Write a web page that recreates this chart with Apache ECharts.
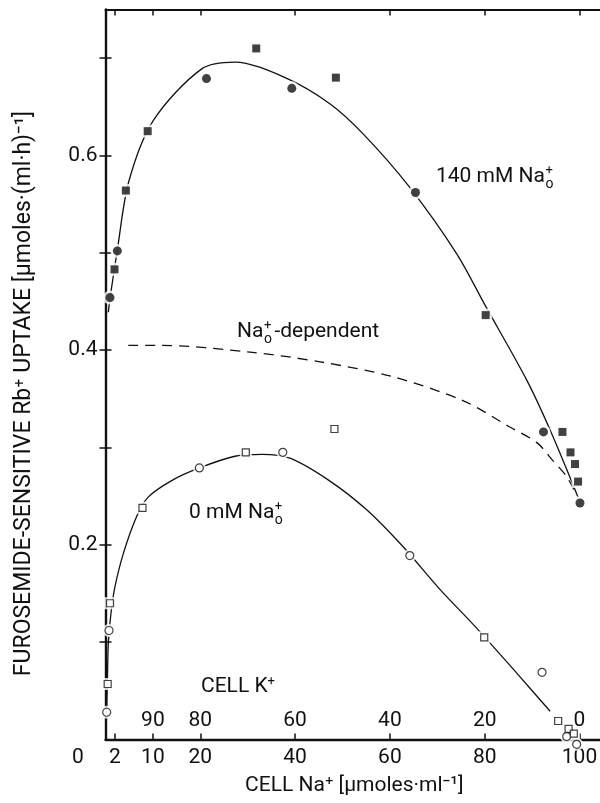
<!DOCTYPE html>
<html>
<head>
<meta charset="utf-8">
<script src="https://cdn.jsdelivr.net/npm/echarts@6/dist/echarts.min.js"></script>
<style>
  html, body { margin: 0; padding: 0; background: #fff; }
  #chart { width: 600px; height: 803px; }
</style>
</head>
<body>
<div id="chart"></div>
<script>
// Furosemide-sensitive Rb+ uptake against cell Na+ (cell K+ = 100 - Na+).

// 140 mM external Na+ (filled symbols)
const na140Circles = [0.95, 2.5, 21.3, 39.3, 65.4, 92.4, 100.1];
const up140Circles = [0.454, 0.502, 0.679, 0.669, 0.562, 0.316, 0.243];
const na140Squares = [1.9, 4.3, 8.9, 31.8, 48.6, 80.2, 96.4, 98.1, 99.05, 99.7];
const up140Squares = [0.483, 0.564, 0.625, 0.710, 0.680, 0.436, 0.316, 0.295, 0.283, 0.265];

// 0 mM external Na+ (open symbols)
const na0Circles = [0.25, 0.74, 19.8, 37.4, 64.2, 92.1, 97.3, 99.4];
const up0Circles = [0.028, 0.112, 0.279, 0.295, 0.189, 0.069, 0.003, -0.005];
const na0Squares = [0.46, 0.95, 7.8, 29.6, 48.3, 79.9, 95.5, 97.7, 98.8];
const up0Squares = [0.057, 0.140, 0.238, 0.295, 0.319, 0.105, 0.019, 0.011, 0.006];

// Hand-fitted curves
const curve140Na = [0.6, 1.0, 2.5, 4.9, 10.1, 20.3, 27.3, 37.9, 47.4, 54.4, 63.9, 74.1, 80.1, 88.9, 93.8, 99.7];
const curve140Up = [0.439, 0.455, 0.503, 0.573, 0.636, 0.689, 0.696, 0.680, 0.653, 0.622, 0.569, 0.499, 0.446, 0.369, 0.318, 0.249];
const curve0Na = [0.2, 0.4, 0.6, 1.16, 2.0, 3.76, 6.57, 9.0, 13.96, 19.8, 27.3, 33.0, 38.9, 47.2, 55.1, 62.6, 70.6, 78.0, 86.8, 93.8];
const curve0Up = [0.02, 0.06, 0.099, 0.130, 0.157, 0.191, 0.229, 0.249, 0.266, 0.279, 0.291, 0.293, 0.289, 0.266, 0.236, 0.199, 0.154, 0.116, 0.068, 0.029];
// Difference curve (Na+o-dependent component)
const curveDepNa = [4.8, 11.5, 30.5, 45.3, 60.4, 75.5, 85.3, 91.0, 94.3, 97.3, 99.4];
const curveDepUp = [0.405, 0.405, 0.398, 0.388, 0.373, 0.348, 0.321, 0.305, 0.287, 0.270, 0.251];

// Axis ticks and labels
const naLabelValues = [2, 10, 20, 40, 60, 80, 100];
const naTickValues = [2, 10, 20, 40, 60, 80, 100];
const kLabelValues = [10, 20, 40, 60, 80, 100];   // shown as cell K+ = 100 - Na+
const uptakeTickValues = [0.1, 0.2, 0.3, 0.4, 0.5, 0.6, 0.7];
const uptakeLabelValues = [0.2, 0.4, 0.6];

const FONT = 'Roboto, "DejaVu Sans", sans-serif';
const INK = '#111';
const SIZE = 21;

const pairs = (xs, ys) => xs.map((x, i) => [x, ys[i]]);

const measureCtx = document.createElement('canvas').getContext('2d');
function textWidth(str, size) {
  measureCtx.font = size + 'px ' + FONT;
  return measureCtx.measureText(str).width;
}
function txt(x, y, text, size, extra) {
  return Object.assign({
    type: 'text', x: x, y: y, silent: true,
    style: { text: text, fontSize: size, fontFamily: FONT, fill: INK,
             textAlign: 'left', textVerticalAlign: 'middle', align: 'left', verticalAlign: 'middle' }
  }, extra || {});
}
// "Na" followed by a stacked + / o (external sodium)
function naOutLabel(x, y, before, after) {
  const w = textWidth(before, SIZE);
  const kids = [
    txt(0, 0, before, SIZE),
    txt(w + 0.5, -6, '+', 13),
    txt(w + 0.5, 7, 'o', 14)
  ];
  if (after) kids.push(txt(w + 11, 0, after, SIZE));
  return { type: 'group', x: x, y: y, silent: true, children: kids };
}

const baseAxisLine = { show: true, onZero: false, lineStyle: { color: INK, width: 2.4 } };
const axisFont = { color: INK, fontFamily: FONT, fontSize: SIZE };

function markerSeries(data, symbol, size, filled) {
  return [
    { // white halo that opens a small gap in the curves
      type: 'scatter', data: data, symbol: symbol, symbolSize: size + 5,
      itemStyle: { color: '#fff' }, z: 3, silent: true, clip: false
    },
    {
      type: 'scatter', data: data, symbol: symbol, symbolSize: size,
      itemStyle: filled ? { color: INK } : { color: '#fff', borderColor: INK, borderWidth: 1.2 },
      z: 4, silent: true, clip: false
    }
  ];
}
function curveSeries(data, dashed) {
  return {
    type: 'line', data: data, showSymbol: false, smooth: 0.3, silent: true, z: 2,
    lineStyle: { color: INK, width: 1.3, type: dashed ? [10, 7] : 'solid' }
  };
}

const chart = echarts.init(document.getElementById('chart'), null, { renderer: 'canvas' });

const option = {
  animation: false,
  backgroundColor: '#fff',
  grid: { left: 105.5, top: 9.5, width: 497.7, height: 730, containLabel: false, outerBoundsMode: 'none' },
  xAxis: [
    { // cell Na+
      type: 'value', position: 'bottom', min: 0, max: 105,
      axisLine: baseAxisLine,
      axisTick: { show: true, inside: true, length: 6, customValues: naTickValues, lineStyle: { color: INK, width: 1.5 } },
      axisLabel: Object.assign({ customValues: naLabelValues, margin: 8 }, axisFont),
      splitLine: { show: false },
      name: 'CELL Na⁺ [μmoles·ml⁻¹]', nameLocation: 'middle', nameGap: 36,
      nameTextStyle: { color: INK, fontFamily: FONT, fontSize: SIZE }
    },
    { // cell K+ read on the same scale
      type: 'value', position: 'bottom', min: 0, max: 105,
      axisLine: { show: false }, axisTick: { show: false }, splitLine: { show: false },
      axisLabel: Object.assign({ inside: true, margin: 8, customValues: kLabelValues,
        formatter: v => String(Math.round(100 - v)) }, axisFont)
    },
    { // top frame
      type: 'value', position: 'top', min: 0, max: 105,
      axisLine: { show: true, onZero: false, lineStyle: { color: INK, width: 2 } },
      axisTick: { show: true, inside: true, length: 6, customValues: naTickValues, lineStyle: { color: INK, width: 1.5 } },
      axisLabel: { show: false }, splitLine: { show: false }
    }
  ],
  yAxis: [
    {
      type: 'value', position: 'left', min: 0, max: 0.75,
      axisLine: baseAxisLine,
      axisTick: { show: true, inside: true, length: 6, customValues: uptakeTickValues, lineStyle: { color: INK, width: 1.5 } },
      axisLabel: Object.assign({ customValues: uptakeLabelValues, margin: 8, formatter: v => v.toFixed(1) }, axisFont),
      splitLine: { show: false },
      name: 'FUROSEMIDE-SENSITIVE Rb⁺ UPTAKE [μmoles·(ml·h)⁻¹]', nameLocation: 'middle', nameGap: 70, nameRotate: 90,
      nameTextStyle: { color: INK, fontFamily: FONT, fontSize: 23, padding: [0, 38, 0, 0] }
    },
    {
      type: 'value', position: 'right', min: 0, max: 0.75,
      axisLine: { show: false },
      axisTick: { show: true, inside: true, length: 6, customValues: uptakeTickValues, lineStyle: { color: INK, width: 1.5 } },
      axisLabel: { show: false }, splitLine: { show: false }
    }
  ],
  series: [
    curveSeries(pairs(curve140Na, curve140Up), false),
    curveSeries(pairs(curve0Na, curve0Up), false),
    curveSeries(pairs(curveDepNa, curveDepUp), true),
    ...markerSeries(pairs(na140Circles, up140Circles), 'circle', 9, true),
    ...markerSeries(pairs(na140Squares, up140Squares), 'rect', 8, true),
    ...markerSeries(pairs(na0Circles, up0Circles), 'circle', 8, false),
    ...markerSeries(pairs(na0Squares, up0Squares), 'rect', 7, false)
  ],
  graphic: [
    naOutLabel(436, 177, '140 mM Na'),
    naOutLabel(237, 332, 'Na', '-dependent'),
    naOutLabel(189, 513, '0 mM Na'),
    {
      type: 'text', x: 201, y: 687, silent: true,
      style: { text: 'CELL K{s|+}', fontSize: SIZE, fontFamily: FONT, fill: INK,
               textVerticalAlign: 'middle', verticalAlign: 'middle',
               rich: { s: { fontSize: 13, fontFamily: FONT, fill: INK, verticalAlign: 'top', padding: [0, 0, 10, 0] } } }
    },
    txt(72, 758, '0', SIZE)
  ]
};

chart.setOption(option);
</script>
</body>
</html>
